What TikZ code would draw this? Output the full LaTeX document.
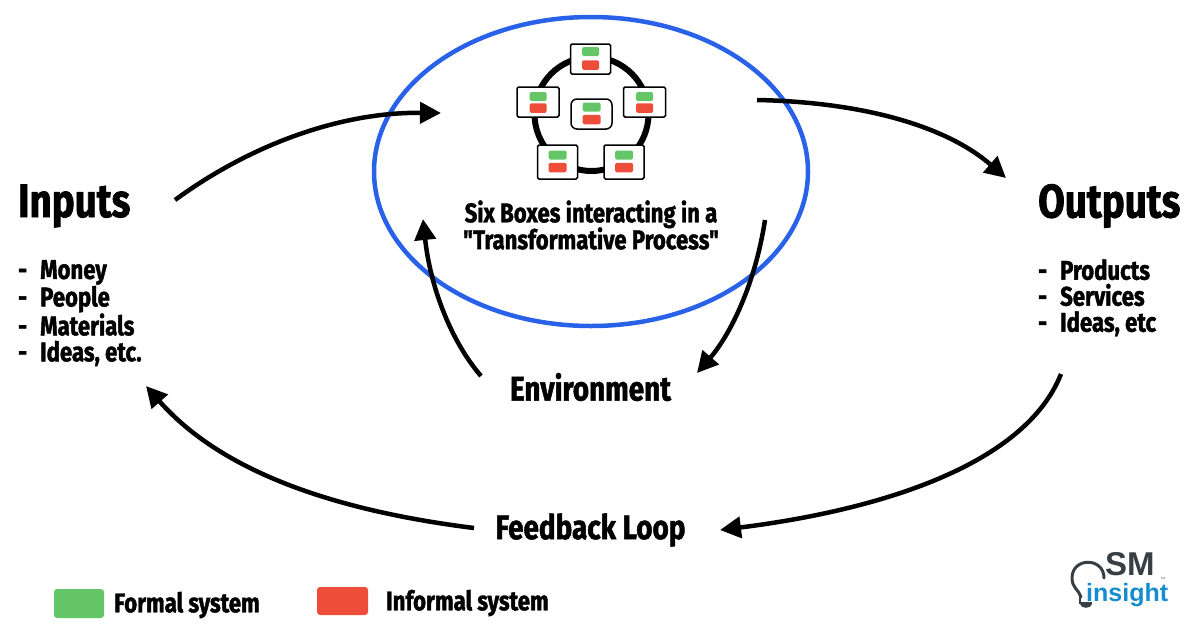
\documentclass[tikz,border=0pt]{standalone}
\usepackage{fontspec}
\setsansfont{Liberation Sans}
\newfontfamily\handfont[FakeStretch=0.82,FakeBold=1.5]{Fira Sans Bold}
\usetikzlibrary{arrows.meta}
\definecolor{formalgreen}{RGB}{100,198,103}
\definecolor{informalred}{RGB}{238,77,58}
\definecolor{ellipseblue}{RGB}{41,98,232}
\definecolor{logogray}{RGB}{55,62,68}
\definecolor{logoblue}{RGB}{20,140,205}
\newcommand{\listdash}{\makebox[22pt][l]{-}}
\tikzset{
  flowarrow/.style={line width=4.5pt,black,-{Triangle[length=21pt,width=21pt]}},
  sixbox/.style={draw=black,fill=white,line width=1.5pt,rounded corners=1.5pt,inner sep=0pt},
  centerbox/.style={sixbox,rounded corners=6pt},
  chip/.style={inner sep=0pt,rounded corners=1.5pt},
  titletext/.style={font=\handfont\fontsize{47}{50}\selectfont,inner sep=0pt},
  listtext/.style={font=\handfont\fontsize{27}{26}\selectfont,inner sep=0pt,align=left,anchor=north west},
  labeltext/.style={font=\handfont\fontsize{34}{36}\selectfont,inner sep=0pt},
  legendtext/.style={font=\handfont\fontsize{27}{28}\selectfont,inner sep=0pt,anchor=west},
}
\begin{document}
\begin{tikzpicture}[x=1pt,y=1pt,yscale=-1,xscale=1]
\useasboundingbox (0,0) rectangle (1191,633);
% Ellipse
\draw [ellipseblue,line width=4.5pt] (591,171.5) ellipse [x radius=217,y radius=154.5];
% Ring behind the boxes
\draw [line width=6pt] (591.5,114) circle [radius=57];
% Boxes
\foreach \name/\bstyle/\bx/\by/\bw/\bh/\cw/\gy/\ry in {
  top/sixbox/590.5/59/40/30/17/-7.5/6,
  left/sixbox/538/102/42/30/17/-5.5/6,
  right/sixbox/644.5/102/42/30/17/-5.5/6,
  lower/sixbox/557.5/162/40/34/18/-7/5.5,
  upper/sixbox/624/162/40/34/18/-7/5.5,
  middle/centerbox/591.5/114/41/30/18/-7/5.5}{
  \node [\bstyle,minimum width=\bw pt,minimum height=\bh pt] (\name box) at (\bx,\by) {};
  \node [chip,fill=formalgreen,minimum width=\cw pt,minimum height=9pt] (\name green) at (\bx,\by+\gy) {};
  \node [chip,fill=informalred,minimum width=\cw pt,minimum height=9.5pt] (\name red) at (\bx,\by+\ry) {};
}
% Text Node
\node [font=\handfont\fontsize{27}{26}\selectfont,inner sep=0pt,align=center] (process) at (591,225) {Six Boxes interacting in a\\[-2pt]"Transformative Process"};
% Text Node
\node [titletext,anchor=west] (inputs) at (18,206) {Inputs};
\node [listtext] (inputslist) at (18,260) {\listdash Money\\\listdash People\\\listdash Materials\\\listdash Ideas, etc.};
% Text Node
\node [titletext,anchor=west] (outputs) at (1038,206) {Outputs};
\node [listtext] (outputslist) at (1038,259) {\listdash Products\\\listdash Services\\\listdash Ideas, etc};
% Text Node
\node [labeltext] (environment) at (590.5,387) {Environment};
\node [labeltext] (feedback) at (590.5,530) {Feedback Loop};
% Arrow ends
\coordinate (inputsout) at (175,200);
\coordinate (processin) at (441,113);
\coordinate (processout) at (757,100);
\coordinate (outputsin) at (1006,178);
\coordinate (processdown) at (765,220);
\coordinate (environmentin) at (697,373);
\coordinate (environmentout) at (481,376);
\coordinate (processup) at (423,219);
\coordinate (outputsout) at (1061,374);
\coordinate (feedbackin) at (720,530);
\coordinate (feedbackout) at (474,528);
\coordinate (inputsin) at (146,386);
%Curve Lines
\draw [flowarrow] (inputsout) .. controls (250,145) and (340,112) .. (processin);
\draw [flowarrow] (processout) .. controls (860,102) and (945,125) .. (outputsin);
\draw [flowarrow] (processdown) .. controls (755,285) and (730,335) .. (environmentin);
\draw [flowarrow] (environmentout) .. controls (450,340) and (430,285) .. (processup);
\draw [flowarrow] (outputsout) .. controls (1025,465) and (880,510) .. (feedbackin);
\draw [flowarrow] (feedbackout) .. controls (330,510) and (220,470) .. (inputsin);
% Legend
\node [chip,rounded corners=3pt,fill=formalgreen,minimum width=50pt,minimum height=29pt] (formalkey) at (79,603.5) {};
\node [legendtext] (formallabel) at (114,605) {Formal system};
\node [chip,rounded corners=3pt,fill=informalred,minimum width=51pt,minimum height=28pt] (informalkey) at (342.5,601) {};
\node [legendtext] (informallabel) at (386,603) {Informal system};
% Logo
\draw [logogray,line width=3pt,line cap=round] (1081,597) .. controls (1079,590) and (1072,588) .. (1072,578) .. controls (1072,557) and (1104,557) .. (1104,578);
\draw [logogray,line width=2.5pt] (1080,597) -- (1080,603) -- (1092,603);
\fill [logogray] (1080,604) -- (1092,604) .. controls (1091,609) and (1081,609) .. (1080,604) -- cycle;
\node [font=\sffamily\bfseries\fontsize{33}{33}\selectfont,text=logogray,inner sep=0pt,anchor=west] (logosm) at (1105,564) {SM};
\node [font=\sffamily\bfseries\fontsize{25}{25}\selectfont,text=logoblue,inner sep=0pt,anchor=west] (logoinsight) at (1086,595) {insight};
\node [font=\sffamily\fontsize{3}{3}\selectfont,text=logogray,inner sep=0pt] (logotm) at (1163,578) {TM};
\end{tikzpicture}
\end{document}
